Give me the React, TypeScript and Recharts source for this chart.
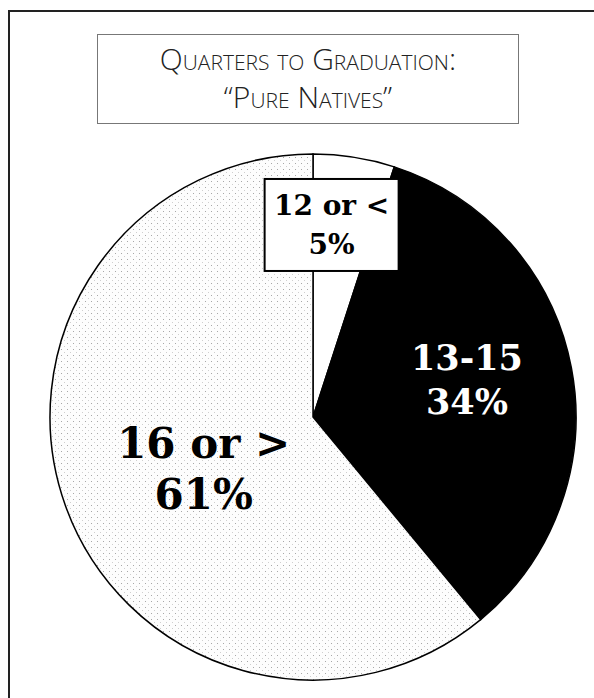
import { Cell, Pie, PieChart } from "recharts"

const groups = ["12 or <", "13-15", "16 or >"]
const shares = [5, 34, 61]
const shareLabels = ["5%", "34%", "61%"]

const data = groups.map((name, i) => ({ name, value: shares[i], text: shareLabels[i] }))

const RADIAN = Math.PI / 180

// how far out each label sits (fraction of the radius), nudge and font
const labelStyle = [
  { r: 0.72, dx: -11, dy: -5, size: 28, lh: 1.36, color: "#000", boxed: true },
  { r: 0.6, dx: -1, dy: -8, size: 35, lh: 1.28, color: "#fff", boxed: false },
  { r: 0.45, dx: 2, dy: 12, size: 42, lh: 1.2, color: "#000", boxed: false },
]

function renderLabel(props: any) {
  const { cx, cy, midAngle, outerRadius, index, payload } = props
  const s = labelStyle[index]
  const x = cx + outerRadius * s.r * Math.cos(-midAngle * RADIAN) + s.dx
  const y = cy + outerRadius * s.r * Math.sin(-midAngle * RADIAN) + s.dy
  const lh = s.size * s.lh
  const font = { fontFamily: "'DejaVu Serif', serif", fontWeight: "bold", fontSize: s.size }
  return (
    <g key={`lbl-${index}`}>
      {s.boxed && (
        <rect x={x - 67} y={y - 46} width={134} height={92} fill="#fff" stroke="#000" strokeWidth={2} />
      )}
      <text x={x} y={y - lh / 2} textAnchor="middle" dominantBaseline="central" fill={s.color} {...font}>
        {payload.name}
      </text>
      <text x={x} y={y + lh / 2} textAnchor="middle" dominantBaseline="central" fill={s.color} {...font}>
        {payload.text}
      </text>
    </g>
  )
}

const fills = ["#ffffff", "#000000", "url(#dots)"]

export default function App() {
  return (
    <div style={{ position: "absolute", left: 0, top: 0, width: 594, height: 698, background: "#fff", overflow: "hidden" }}>
      <div
        style={{
          position: "absolute",
          left: 8,
          top: 10,
          width: 620,
          height: 720,
          borderLeft: "2px solid #222",
          borderTop: "2px solid #222",
        }}
      />
      <div
        style={{
          position: "absolute",
          left: 97,
          top: 34,
          width: 422,
          height: 90,
          border: "1px solid #777",
          boxSizing: "border-box",
          textAlign: "center",
          fontFamily: "'Open Sans', sans-serif",
          fontWeight: 300,
          fontVariant: "small-caps",
          fontSize: 30,
          lineHeight: "38px",
          paddingTop: 5,
          color: "#222",
        }}
      >
        <div>Quarters to Graduation:</div>
        <div>“Pure Natives”</div>
      </div>
      <div style={{ position: "absolute", left: 0, top: 0 }}>
        <PieChart width={594} height={698}>
          <defs>
            <pattern id="dots" width="6" height="6" patternUnits="userSpaceOnUse">
              <rect width="6" height="6" fill="#fdfdfd" />
              <rect x="1" y="1" width="1" height="1" fill="#a8a8a8" />
              <rect x="4" y="4" width="1" height="1" fill="#cfcfcf" />
            </pattern>
          </defs>
          <Pie
            data={data}
            dataKey="value"
            nameKey="name"
            cx={308}
            cy={412}
            outerRadius={263}
            startAngle={90}
            endAngle={-270}
            stroke="#000"
            strokeWidth={1.5}
            labelLine={false}
            label={renderLabel}
            isAnimationActive={false}
          >
            {data.map((entry, index) => (
              <Cell key={`cell-${index}`} fill={fills[index]} />
            ))}
          </Pie>
        </PieChart>
      </div>
    </div>
  )
}
